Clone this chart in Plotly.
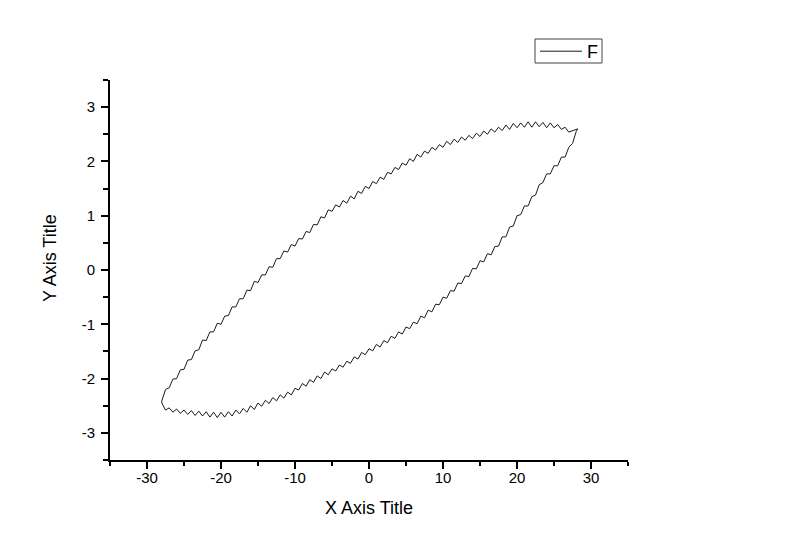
import plotly.graph_objects as go

# ---- data ----
X_GRID = [
    -28.0, -27.5, -27.0, -26.5, -26.0, -25.5, -25.0, -24.5, -24.0, -23.5,
    -23.0, -22.5, -22.0, -21.5, -21.0, -20.5, -20.0, -19.5, -19.0, -18.5,
    -18.0, -17.5, -17.0, -16.5, -16.0, -15.5, -15.0, -14.5, -14.0, -13.5,
    -13.0, -12.5, -12.0, -11.5, -11.0, -10.5, -10.0, -9.5, -9.0, -8.5,
    -8.0, -7.5, -7.0, -6.5, -6.0, -5.5, -5.0, -4.5, -4.0, -3.5,
    -3.0, -2.5, -2.0, -1.5, -1.0, -0.5, 0.0, 0.5, 1.0, 1.5,
    2.0, 2.5, 3.0, 3.5, 4.0, 4.5, 5.0, 5.5, 6.0, 6.5,
    7.0, 7.5, 8.0, 8.5, 9.0, 9.5, 10.0, 10.5, 11.0, 11.5,
    12.0, 12.5, 13.0, 13.5, 14.0, 14.5, 15.0, 15.5, 16.0, 16.5,
    17.0, 17.5, 18.0, 18.5, 19.0, 19.5, 20.0, 20.5, 21.0, 21.5,
    22.0, 22.5, 23.0, 23.5, 24.0, 24.5, 25.0, 25.5, 26.0, 26.5,
    27.0, 27.5, 28.0,
]

# rising (upper) branch, in increasing x order
UPPER_Y = [
    -2.41, -2.20, -2.17, -2.01, -2.00, -1.84, -1.83, -1.66, -1.65, -1.49,
    -1.47, -1.29, -1.30, -1.14, -1.14, -0.98, -1.00, -0.85, -0.84, -0.68,
    -0.68, -0.53, -0.53, -0.37, -0.38, -0.21, -0.23, -0.09, -0.09, 0.06,
    0.05, 0.21, 0.21, 0.35, 0.33, 0.47, 0.44, 0.58, 0.57, 0.71,
    0.69, 0.84, 0.83, 0.98, 0.96, 1.11, 1.08, 1.20, 1.16, 1.28,
    1.23, 1.36, 1.31, 1.45, 1.41, 1.54, 1.50, 1.63, 1.59, 1.71,
    1.67, 1.80, 1.77, 1.89, 1.85, 1.97, 1.93, 2.05, 2.00, 2.13,
    2.08, 2.19, 2.15, 2.26, 2.21, 2.31, 2.26, 2.37, 2.31, 2.41,
    2.35, 2.45, 2.39, 2.48, 2.42, 2.52, 2.46, 2.56, 2.50, 2.60,
    2.54, 2.63, 2.57, 2.67, 2.59, 2.70, 2.62, 2.71, 2.63, 2.73,
    2.63, 2.73, 2.64, 2.72, 2.62, 2.71, 2.62, 2.68, 2.59, 2.63,
    2.54, 2.56, 2.58,
]

# falling (lower) branch, also listed in increasing x order
LOWER_Y = [
    -2.45, -2.58, -2.54, -2.62, -2.56, -2.64, -2.58, -2.66, -2.59, -2.68,
    -2.60, -2.69, -2.61, -2.71, -2.62, -2.72, -2.62, -2.71, -2.61, -2.69,
    -2.58, -2.65, -2.55, -2.62, -2.50, -2.57, -2.45, -2.51, -2.40, -2.46,
    -2.35, -2.41, -2.30, -2.36, -2.25, -2.30, -2.18, -2.21, -2.09, -2.14,
    -2.02, -2.07, -1.95, -2.00, -1.88, -1.93, -1.82, -1.86, -1.75, -1.79,
    -1.68, -1.72, -1.60, -1.64, -1.52, -1.56, -1.45, -1.49, -1.37, -1.42,
    -1.30, -1.34, -1.22, -1.26, -1.14, -1.18, -1.05, -1.08, -0.96, -0.99,
    -0.85, -0.88, -0.74, -0.77, -0.63, -0.64, -0.50, -0.52, -0.38, -0.39,
    -0.24, -0.25, -0.11, -0.12, 0.03, 0.02, 0.17, 0.15, 0.30, 0.28,
    0.43, 0.44, 0.61, 0.61, 0.79, 0.81, 1.00, 1.02, 1.18, 1.18,
    1.35, 1.38, 1.57, 1.61, 1.77, 1.77, 1.92, 1.92, 2.08, 2.08,
    2.26, 2.33, 2.55,
]

TIP_X = 28.2
TIP_Y = 2.60

X_TICKS = [-30, -20, -10, 0, 10, 20, 30]
X_TICK_TEXT = ["-30", "-20", "-10", "0", "10", "20", "30"]
X_MINOR = [-35, -25, -15, -5, 5, 15, 25, 35]
Y_TICKS = [-3, -2, -1, 0, 1, 2, 3]
Y_TICK_TEXT = ["-3", "-2", "-1", "0", "1", "2", "3"]
Y_MINOR = [-3.5, -2.5, -1.5, -0.5, 0.5, 1.5, 2.5, 3.5]

SERIES_NAME = "F"
X_TITLE = "X Axis Title"
Y_TITLE = "Y Axis Title"

# ---- build the closed loop ----
loop_x = X_GRID + [TIP_X] + X_GRID[::-1] + [X_GRID[0]]
loop_y = UPPER_Y + [TIP_Y] + LOWER_Y[::-1] + [UPPER_Y[0]]

FONT = "Liberation Sans, Arial, sans-serif"

# the page body has an 8px default margin; compensate in the figure margins
PAGE_OFF = 8
L, T = 110 - PAGE_OFF, 80 - PAGE_OFF
PW, PH = 518, 380
R = 800 - L - PW
B = 559 - T - PH

fig = go.Figure()
fig.add_trace(go.Scatter(
    x=loop_x, y=loop_y, mode="lines", name=SERIES_NAME,
    line=dict(color="#1a1a1a", width=1),
    showlegend=True,
))

axis_common = dict(
    showgrid=False, zeroline=False, showline=True,
    linecolor="black", linewidth=2,
    ticks="outside", ticklen=7, tickwidth=1.5, tickcolor="black",
    tickfont=dict(family=FONT, size=15, color="black"),
    tickmode="array",
    mirror=False,
)

fig.update_xaxes(
    range=[-35, 35], tickvals=X_TICKS, ticktext=X_TICK_TEXT,
    ticklabelstandoff=-4,
    minor=dict(tickmode="array", tickvals=X_MINOR, ticks="outside",
               ticklen=4, tickwidth=1.5, tickcolor="black"),
    **axis_common,
)
fig.update_yaxes(
    range=[-3.5, 3.5], tickvals=Y_TICKS, ticktext=Y_TICK_TEXT,
    ticklabelstandoff=3,
    minor=dict(tickmode="array", tickvals=Y_MINOR, ticks="outside",
               ticklen=5, tickwidth=1.5, tickcolor="black"),
    **axis_common,
)

# legend frame in reference (page px): x 535..602, y 39..63
LEG_X0, LEG_X1, LEG_Y0, LEG_Y1 = 535, 602, 39, 63

fig.update_layout(
    width=800, height=559,
    margin=dict(l=L, r=R, t=T, b=B, pad=0, autoexpand=False),
    paper_bgcolor="white", plot_bgcolor="white",
    font=dict(family=FONT, color="black"),
    showlegend=True,
    legend=dict(
        x=(LEG_X0 - 110) / PW, y=1 + (80 - 33) / PH,
        xanchor="left", yanchor="top",
        bgcolor="rgba(0,0,0,0)", borderwidth=0,
        font=dict(family=FONT, size=18, color="black"),
        itemwidth=42, tracegroupgap=0,
    ),
    shapes=[
        dict(type="rect", xref="paper", yref="paper", layer="above",
             x0=(LEG_X0 - 110) / PW, x1=(LEG_X1 - 110) / PW,
             y0=(460 - LEG_Y1) / PH, y1=(460 - LEG_Y0) / PH,
             line=dict(color="#444", width=1), fillcolor="white"),
    ],
    annotations=[
        dict(text=X_TITLE, xref="paper", yref="paper",
             x=0.5, y=-(508.5 - 460) / PH, xanchor="center", yanchor="middle",
             showarrow=False, font=dict(family=FONT, size=18, color="black")),
        dict(text=Y_TITLE, xref="paper", yref="paper",
             x=-(110 - 50) / PW, y=(460 - 258) / PH, xanchor="center", yanchor="middle",
             textangle=-90, showarrow=False,
             font=dict(family=FONT, size=18, color="black")),
    ],
)

fig.write_html("out.html")
